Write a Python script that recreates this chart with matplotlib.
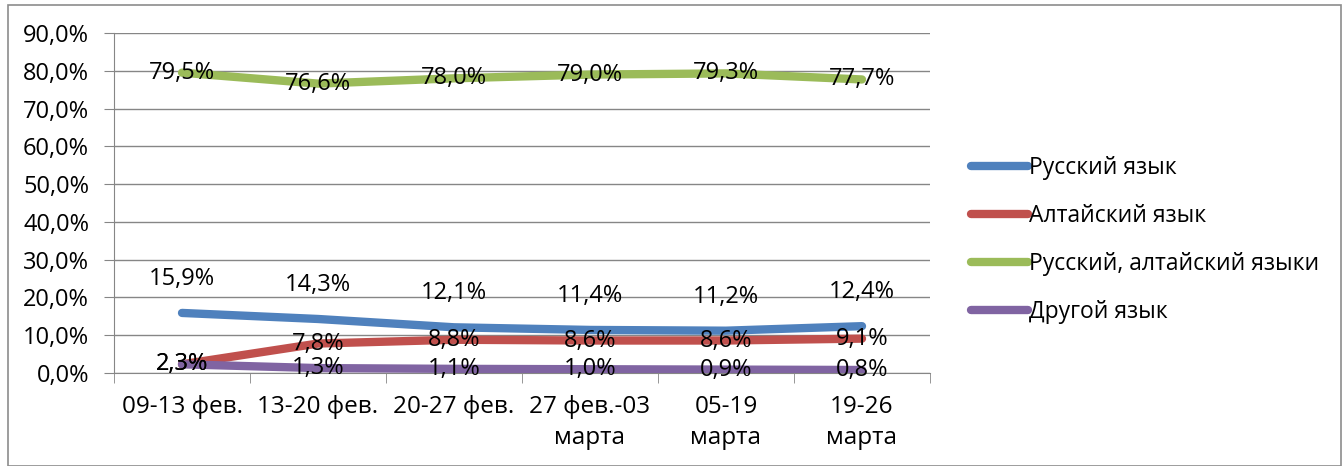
import matplotlib.pyplot as plt
from matplotlib.patches import Rectangle

# data
periods = ["09-13 фев.", "13-20 фев.", "20-27 фев.", "27 фев.-03\nмарта", "05-19\nмарта", "19-26\nмарта"]
russian = [15.9, 14.3, 12.1, 11.4, 11.2, 12.4]
altai = [2.3, 7.8, 8.8, 8.6, 8.6, 9.1]
both = [79.5, 76.6, 78.0, 79.0, 79.3, 77.7]
other = [2.3, 1.3, 1.1, 1.0, 0.9, 0.8]

series_names = ["Русский язык", "Алтайский язык", "Русский, алтайский языки", "Другой язык"]
series_values = [russian, altai, both, other]
series_colors = ["#4F81BD", "#C0504D", "#9BBB59", "#8064A2"]
label_offsets = [34, 0, 0, 0]  # px above the point

plt.rcParams['font.family'] = ['Open Sans', 'DejaVu Sans']

fig = plt.figure(figsize=(13.42, 4.66), dpi=100)
fig.patches.append(Rectangle((8 / 1342, 0), 1 - 9 / 1342, 1 - 5 / 466, transform=fig.transFigure,
                             fill=False, edgecolor="#8c8c8c", linewidth=1.2))

ax = fig.add_axes([114 / 1342, 93 / 466, (930 - 114) / 1342, (373 - 33) / 466])
x = list(range(len(periods)))

for name, vals, col, off in zip(series_names, series_values, series_colors, label_offsets):
    ax.plot(x, vals, color=col, linewidth=6, solid_capstyle='round', label=name, zorder=3)
    for xi, v in zip(x, vals):
        ax.annotate(f"{v:.1f}%".replace(".", ","), (xi, v), xytext=(0, off * 0.72),
                    textcoords="offset points", ha="center", va="center",
                    fontsize=17, color="black", zorder=4)

ax.set_xlim(-0.5, len(periods) - 0.5)
ax.set_ylim(0, 90)
ax.set_yticks(range(0, 91, 10))
ax.set_yticklabels([f"{t:.1f}%".replace(".", ",") for t in range(0, 91, 10)], fontsize=17)
ax.set_xticks(x)
ax.set_xticklabels(periods, fontsize=17.5, linespacing=1.35)
ax.set_xticks([i - 0.5 for i in range(len(periods) + 1)], minor=True)
ax.tick_params(axis='x', which='major', length=0, pad=16)
ax.tick_params(axis='x', which='minor', length=7, color="#868686", direction="out")
ax.tick_params(axis='y', length=7, color="#868686", direction="out", pad=11)

ax.grid(axis='y', color="#868686", linewidth=1)
ax.set_axisbelow(True)
for s in ["top", "right"]:
    ax.spines[s].set_visible(False)
ax.spines["left"].set_color("#868686")
ax.spines["bottom"].set_color("#868686")

leg = fig.legend(loc="upper left", bbox_to_anchor=(950 / 1342, 1 - 135 / 466), frameon=False,
                 fontsize=16.5, handlelength=2.5, handletextpad=0.05, labelspacing=1.05)

fig.savefig("out.png", dpi=100)
